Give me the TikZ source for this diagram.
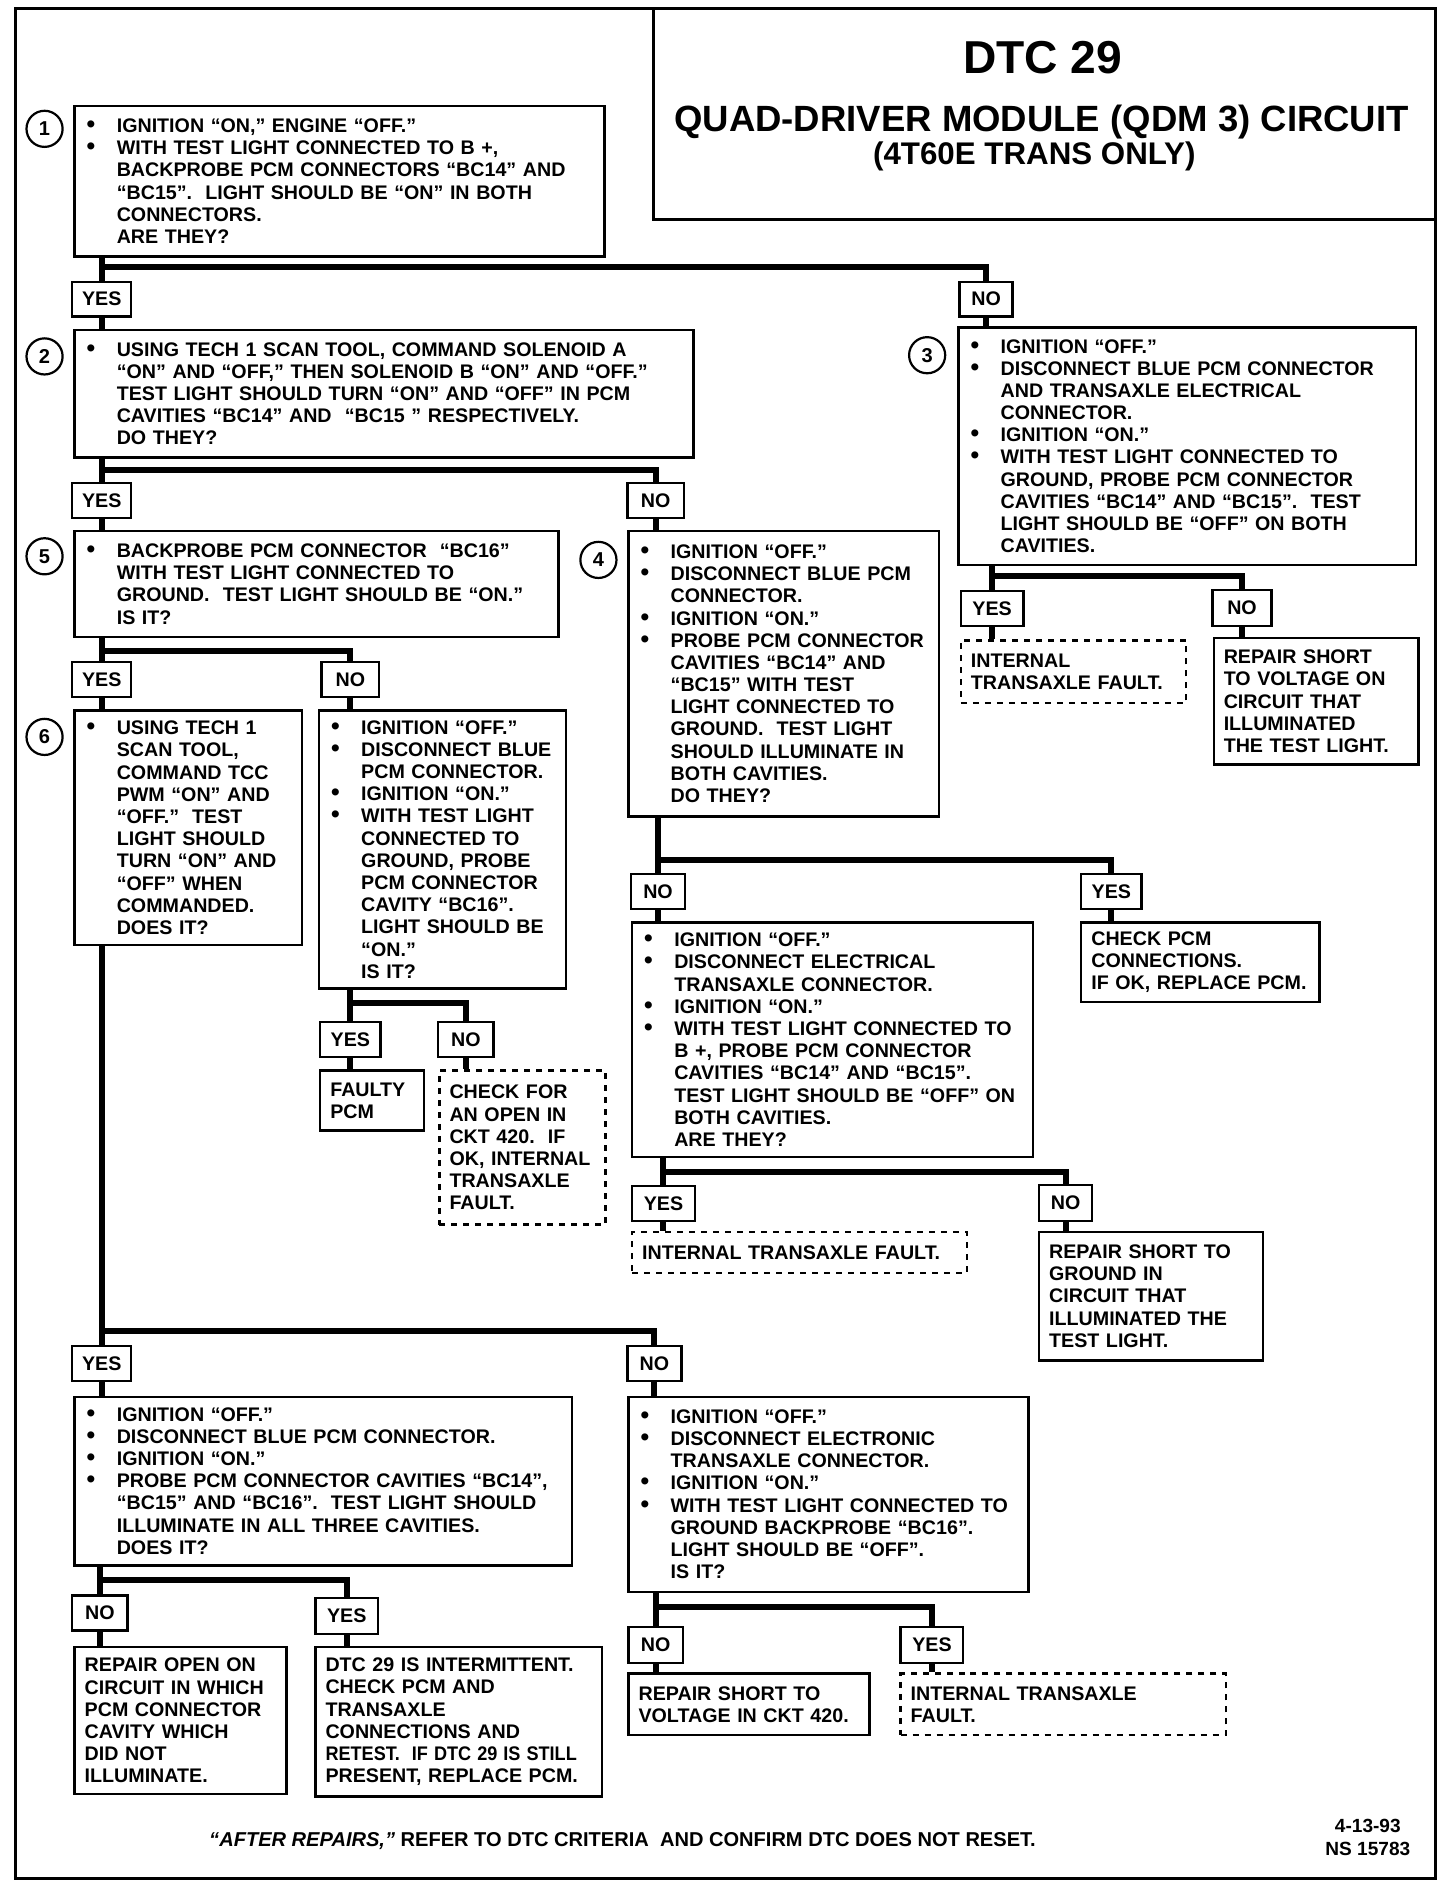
\documentclass[tikz,border=0pt]{standalone}
\usepackage{fontspec}
\setmainfont{Liberation Sans}
\usepackage{graphicx}
\setlength\parindent{0pt}
\newcommand\fs{\fontsize{9.8bp}{11.05bp}\selectfont\bfseries}
\newcommand\B{\makebox[16bp][l]{\hspace{1bp}\scalebox{1.25}{\textbullet}}}
\newcommand\C{\hspace*{16bp}}
\newcommand\sq[1]{\scalebox{0.92}[1]{#1}}
\def\boxpad{5bp}
\newcommand\bx[7][]{%
  \pgfmathsetlengthmacro\bw{(#5-#3)*0.6bp}%
  \pgfmathsetlengthmacro\bh{(#6-#4)*0.6bp}%
  \pgfmathsetlengthmacro\tw{(#5-#3)*0.6bp-2*\boxpad}%
  \node[box,minimum width=\bw,minimum height=\bh,text width=\tw,#1] (#2) at ({(#3+#5)/2},{(#4+#6)/2}) {#7};}
\newcommand\lb[6]{%
  \pgfmathsetlengthmacro\bw{(#4-#2)*0.6bp}%
  \pgfmathsetlengthmacro\bh{(#5-#3)*0.6bp}%
  \node[lab,minimum width=\bw,minimum height=\bh] (#1) at ({(#2+#4)/2},{(#3+#5)/2}) {#6};}
\begin{document}
\begin{tikzpicture}[x=0.6bp,y=-0.6bp,
  box/.style={draw,line width=1.2bp,inner xsep=\boxpad,inner ysep=0pt,align=left,font=\fs},
  lab/.style={draw,line width=1.2bp,inner sep=1bp,font=\fs},
  conn/.style={line width=3bp,line join=miter},
  circ/.style={draw,circle,line width=1.1bp,minimum size=18bp,inner sep=0pt,font=\fontsize{10bp}{12bp}\selectfont\bfseries},
  frame/.style={line width=1.6bp}]
\useasboundingbox (0,0) rectangle (1209,1568);
\draw[frame] (13,7) rectangle (1192,1560);
\draw[frame] (543,7) |- (1192,182);
\node[font=\fontsize{23bp}{26bp}\selectfont\bfseries] (t1) at (866,48) {DTC 29};
\node[font=\fontsize{18.2bp}{21bp}\selectfont\bfseries] (t2) at (865,101) {QUAD-DRIVER MODULE (QDM 3) CIRCUIT};
\node[font=\fontsize{15.6bp}{18bp}\selectfont\bfseries] (t3) at (859,130) {(4T60E TRANS ONLY)};

% circles
\node[circ] (c1) at (37,107) {1};
\node[circ] (c2) at (37,296) {2};
\node[circ] (c3) at (770,295) {3};
\node[circ] (c4) at (497,465) {4};
\node[circ] (c5) at (37,462) {5};
\node[circ] (c6) at (37,612) {6};

% boxes
\bx{b1}{62}{88}{502}{213}{\B IGNITION “ON,” ENGINE “OFF.”\\
\B WITH TEST LIGHT CONNECTED TO B +,\\
\C BACKPROBE PCM CONNECTORS “BC14” AND\\
\C “BC15”.\ \ LIGHT SHOULD BE “ON” IN BOTH\\
\C CONNECTORS.\\
\C ARE THEY?}
\bx{b2}{62}{274}{576}{380}{\B USING TECH 1 SCAN TOOL, COMMAND SOLENOID A\\
\C “ON” AND “OFF,” THEN SOLENOID B “ON” AND “OFF.”\\
\C TEST LIGHT SHOULD TURN “ON” AND “OFF” IN PCM\\
\C CAVITIES “BC14” AND\ \ “BC15 ” RESPECTIVELY.\\
\C DO THEY?}
\bx{b3}{796}{272}{1176}{469}{\B IGNITION “OFF.”\\
\B DISCONNECT BLUE PCM CONNECTOR\\
\C AND TRANSAXLE ELECTRICAL\\
\C CONNECTOR.\\
\B IGNITION “ON.”\\
\B WITH TEST LIGHT CONNECTED TO\\
\C GROUND, PROBE PCM CONNECTOR\\
\C CAVITIES “BC14” AND “BC15”.\ \ TEST\\
\C LIGHT SHOULD BE “OFF” ON BOTH\\
\C CAVITIES.}
\bx{b5}{62}{441}{464}{529}{\B BACKPROBE PCM CONNECTOR\ \ “BC16”\\
\C WITH TEST LIGHT CONNECTED TO\\
\C GROUND.\ \ TEST LIGHT SHOULD BE “ON.”\\
\C IS IT?}
\bx{b4}{522}{441}{780}{678}{\B IGNITION “OFF.”\\
\B DISCONNECT BLUE PCM\\
\C CONNECTOR.\\
\B IGNITION “ON.”\\
\B PROBE PCM CONNECTOR\\
\C CAVITIES “BC14” AND\\
\C “BC15” WITH TEST\\
\C LIGHT CONNECTED TO\\
\C GROUND.\ \ TEST LIGHT\\
\C SHOULD ILLUMINATE IN\\
\C BOTH CAVITIES.\\
\C DO THEY?}
\bx{b6}{62}{590}{251}{785}{\B USING TECH 1\\
\C SCAN TOOL,\\
\C COMMAND TCC\\
\C PWM “ON” AND\\
\C “OFF.”\ \ TEST\\
\C LIGHT SHOULD\\
\C TURN “ON” AND\\
\C “OFF” WHEN\\
\C COMMANDED.\\
\C DOES IT?}
\bx{b7}{265}{590}{470}{821}{\B IGNITION “OFF.”\\
\B DISCONNECT BLUE\\
\C PCM CONNECTOR.\\
\B IGNITION “ON.”\\
\B WITH TEST LIGHT\\
\C CONNECTED TO\\
\C GROUND, PROBE\\
\C PCM CONNECTOR\\
\C CAVITY “BC16”.\\
\C LIGHT SHOULD BE\\
\C “ON.”\\
\C IS IT?}
\bx{b8}{266}{889}{352}{939}{FAULTY\\PCM}
\bx[dashed]{b9}{365}{889}{503}{1017}{CHECK FOR\\AN OPEN IN\\CKT 420.\ \ IF\\OK, INTERNAL\\TRANSAXLE\\FAULT.}
\bx[dashed]{b10}{798}{532}{985}{584}{INTERNAL\\TRANSAXLE FAULT.}
\bx{b11}{1008}{530}{1178}{635}{REPAIR SHORT\\TO VOLTAGE ON\\CIRCUIT THAT\\ILLUMINATED\\THE TEST LIGHT.}
\bx{b12}{525}{766}{858}{961}{\B IGNITION “OFF.”\\
\B DISCONNECT ELECTRICAL\\
\C TRANSAXLE CONNECTOR.\\
\B IGNITION “ON.”\\
\B WITH TEST LIGHT CONNECTED TO\\
\C B +, PROBE PCM CONNECTOR\\
\C CAVITIES “BC14” AND “BC15”.\\
\C TEST LIGHT SHOULD BE “OFF” ON\\
\C BOTH CAVITIES.\\
\C ARE THEY?}
\bx{b13}{898}{766}{1096}{832}{CHECK PCM\\CONNECTIONS.\\IF OK, REPLACE PCM.}
\bx[dashed]{b14}{525}{1023}{803}{1057}{INTERNAL TRANSAXLE FAULT.}
\bx{b15}{863}{1023}{1049}{1130}{REPAIR SHORT TO\\GROUND IN\\CIRCUIT THAT\\ILLUMINATED THE\\TEST LIGHT.}
\bx{b16}{62}{1160}{475}{1300}{\B IGNITION “OFF.”\\
\B DISCONNECT BLUE PCM CONNECTOR.\\
\B IGNITION “ON.”\\
\B PROBE PCM CONNECTOR CAVITIES “BC14”,\\
\C “BC15” AND “BC16”.\ \ TEST LIGHT SHOULD\\
\C ILLUMINATE IN ALL THREE CAVITIES.\\
\C DOES IT?}
\bx{b17}{522}{1160}{854}{1322}{\B IGNITION “OFF.”\\
\B DISCONNECT ELECTRONIC\\
\C TRANSAXLE CONNECTOR.\\
\B IGNITION “ON.”\\
\B WITH TEST LIGHT CONNECTED TO\\
\C GROUND BACKPROBE “BC16”.\\
\C LIGHT SHOULD BE “OFF”.\\
\C IS IT?}
\bx{b18}{62}{1368}{238}{1490}{REPAIR OPEN ON\\CIRCUIT IN WHICH\\PCM CONNECTOR\\CAVITY WHICH\\DID NOT\\ILLUMINATE.}
\bx{b19}{262}{1368}{500}{1492}{DTC 29 IS INTERMITTENT.\\CHECK PCM AND\\TRANSAXLE\\CONNECTIONS AND\\\sq{RETEST.\ \ IF DTC 29 IS STILL}\\PRESENT, REPLACE PCM.}
\bx{b20}{522}{1390}{722}{1441}{REPAIR SHORT TO\\VOLTAGE IN CKT 420.}
\bx[dashed]{b21}{748}{1390}{1018}{1441}{INTERNAL TRANSAXLE\\FAULT.}

% labels
\lb{y1}{60}{234}{109}{263}{YES}
\lb{n1}{797}{234}{841}{263}{NO}
\lb{y2}{60}{401}{109}{430}{YES}
\lb{n2}{521}{401}{568}{430}{NO}
\lb{y5}{60}{550}{109}{579}{YES}
\lb{n5}{267}{550}{315}{579}{NO}
\lb{y7}{266}{849}{316}{878}{YES}
\lb{n7}{364}{849}{410}{878}{NO}
\lb{y3}{798}{491}{850}{520}{YES}
\lb{n3}{1007}{490}{1056}{520}{NO}
\lb{n4}{524}{726}{569}{755}{NO}
\lb{y4}{898}{726}{948}{755}{YES}
\lb{y12}{525}{985}{577}{1014}{YES}
\lb{n12}{863}{984}{907}{1014}{NO}
\lb{yT}{60}{1118}{109}{1147}{YES}
\lb{nT}{521}{1118}{566}{1147}{NO}
\lb{n16}{60}{1325}{106}{1354}{NO}
\lb{y16}{262}{1327}{314}{1357}{YES}
\lb{n17}{522}{1351}{567}{1381}{NO}
\lb{y17}{748}{1351}{800}{1381}{YES}

% junction levels
\coordinate (j1) at (0,222);
\coordinate (j2) at (0,390);
\coordinate (j5) at (0,541);
\coordinate (j7) at (0,833);
\coordinate (j3) at (0,478);
\coordinate (j4) at (0,714);
\coordinate (j12) at (0,973);
\coordinate (jT) at (0,1105);
\coordinate (j16) at (0,1312);
\coordinate (j17) at (0,1335);

% connectors
\draw[conn] (y1 |- b1.south) -- (y1.north);
\draw[conn] (y1 |- j1) -| (n1.north);
\draw[conn] (y1.south) -- (y1 |- b2.north);
\draw[conn] (n1.south) -- (n1 |- b3.north);
\draw[conn] (y2 |- b2.south) -- (y2.north);
\draw[conn] (y2 |- j2) -| (n2.north);
\draw[conn] (y2.south) -- (y2 |- b5.north);
\draw[conn] (n2.south) -- (n2 |- b4.north);
\draw[conn] (y5 |- b5.south) -- (y5.north);
\draw[conn] (y5 |- j5) -| (n5.north);
\draw[conn] (y5.south) -- (y5 |- b6.north);
\draw[conn] (n5.south) -- (n5 |- b7.north);
\draw[conn] (y7 |- b7.south) -- (y7.north);
\draw[conn] (y7 |- j7) -| (n7.north);
\draw[conn] (y7.south) -- (y7 |- b8.north);
\draw[conn] (n7.south) -- (n7 |- b9.north);
\draw[conn] (y3 |- b3.south) -- (y3.north);
\draw[conn] (y3 |- j3) -| (n3.north);
\draw[conn] (y3.south) -- (y3 |- b10.north);
\draw[conn] (n3.south) -- (n3 |- b11.north);
\draw[conn] (n4 |- b4.south) -- (n4.north);
\draw[conn] (n4 |- j4) -| (y4.north);
\draw[conn] (n4.south) -- (n4 |- b12.north);
\draw[conn] (y4.south) -- (y4 |- b13.north);
\draw[conn] (y12 |- b12.south) -- (y12.north);
\draw[conn] (y12 |- j12) -| (n12.north);
\draw[conn] (y12.south) -- (y12 |- b14.north);
\draw[conn] (n12.south) -- (n12 |- b15.north);
\draw[conn] (yT |- b6.south) -- (yT.north);
\draw[conn] (yT |- jT) -| (nT.north);
\draw[conn] (yT.south) -- (yT |- b16.north);
\draw[conn] (nT.south) -- (nT |- b17.north);
\draw[conn] (n16 |- b16.south) -- (n16.north);
\draw[conn] (n16 |- j16) -| (y16.north);
\draw[conn] (n16.south) -- (n16 |- b18.north);
\draw[conn] (y16.south) -- (y16 |- b19.north);
\draw[conn] (n17 |- b17.south) -- (n17.north);
\draw[conn] (n17 |- j17) -| (y17.north);
\draw[conn] (n17.south) -- (n17 |- b20.north);
\draw[conn] (y17.south) -- (y17 |- b21.north);

% footer
\node[font=\fontsize{10bp}{12bp}\selectfont\bfseries] (foot) at (517,1529) {\textit{“AFTER REPAIRS,”} REFER TO DTC CRITERIA\ \ AND CONFIRM DTC DOES NOT RESET.};
\node[align=center,font=\fontsize{9.5bp}{11bp}\selectfont\bfseries] (date) at (1136,1526) {4-13-93\\NS 15783};
\end{tikzpicture}
\end{document}
